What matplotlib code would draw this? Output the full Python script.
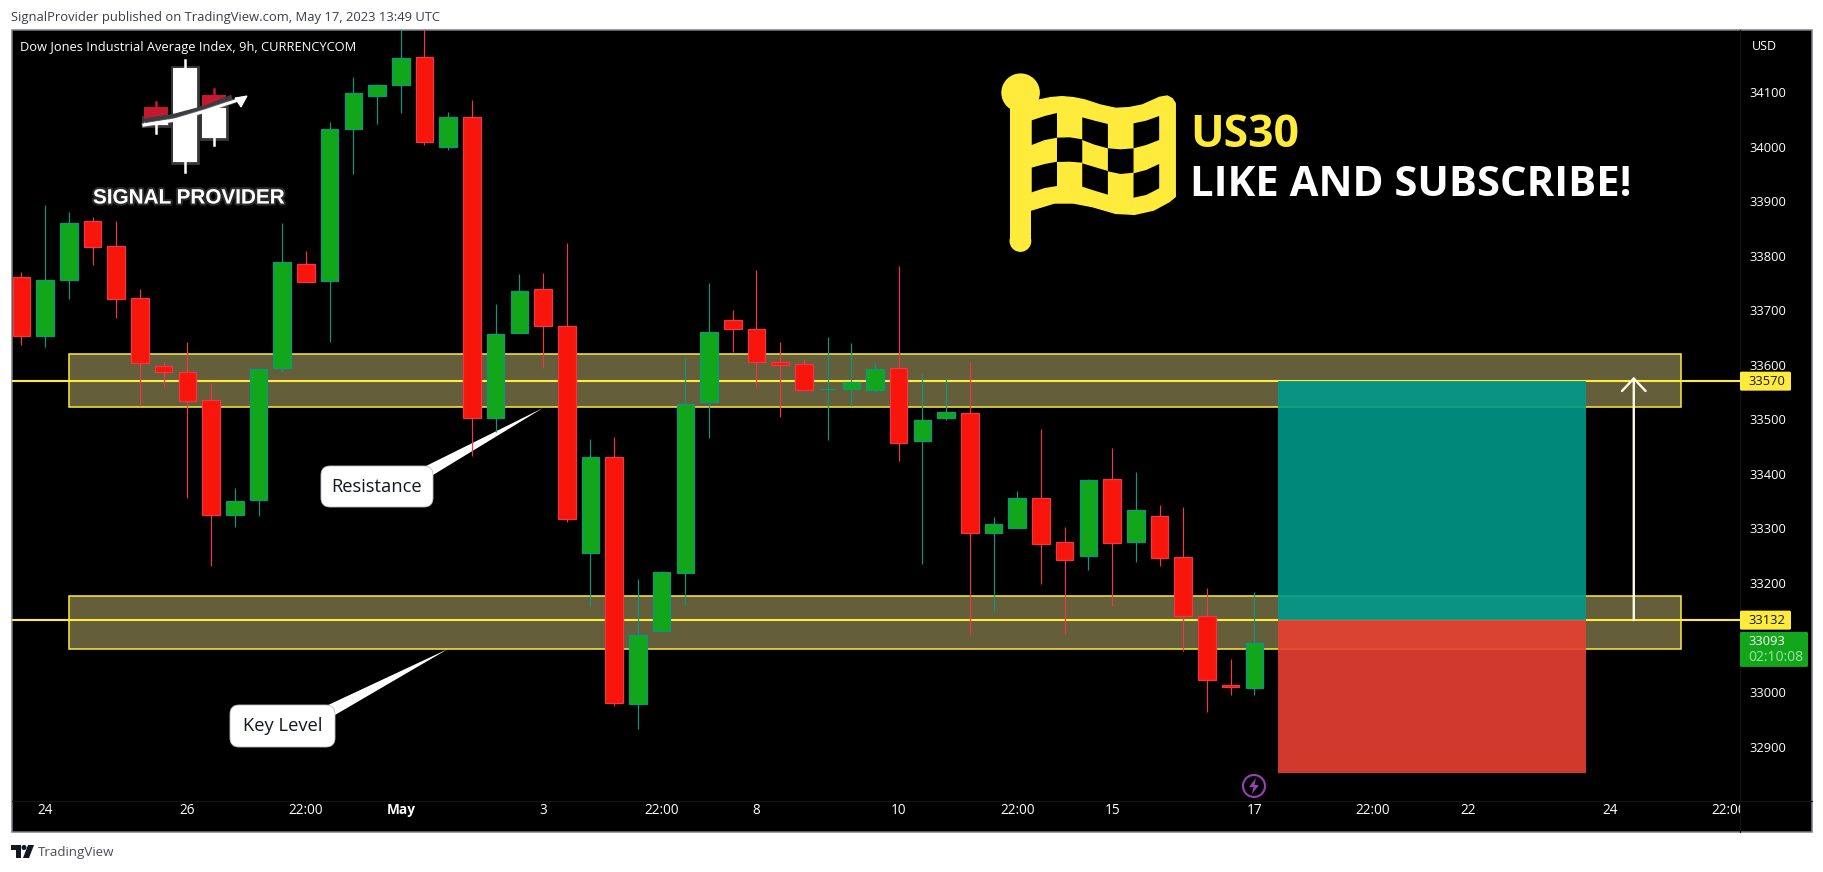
import matplotlib
matplotlib.use('Agg')
import matplotlib.pyplot as plt
import matplotlib.patheffects as pe
from matplotlib.patches import Rectangle, Polygon, Circle, FancyBboxPatch

W, H = 1823, 872

# candle values (price, one bar every 9h)
opens = [33760, 33653, 33755, 33863, 33817, 33722, 33597, 33586, 33535, 33324, 33352,
         33594, 33784, 33753, 34033, 34092, 34112, 34164, 34000, 34054, 33502, 33658,
         33738, 33672, 33255, 33431, 32979, 33112, 33218, 33531, 33682, 33665, 33606,
         33601, 33555, 33555, 33553, 33594, 33460, 33503, 33511, 33292, 33301, 33355,
         33275, 33249, 33390, 33276, 33322, 33247, 33139, 33014, 33007]
closes = [33653, 33755, 33859, 33815, 33720, 33603, 33586, 33533, 33324, 33350, 33592,
          33788, 33751, 34032, 34098, 34112, 34162, 34009, 34055, 33503, 33656, 33735,
          33672, 33318, 33431, 32981, 33104, 33220, 33529, 33660, 33666, 33606, 33599,
          33553, 33555, 33568, 33592, 33456, 33498, 33513, 33291, 33308, 33355, 33271,
          33242, 33388, 33274, 33333, 33246, 33139, 33022, 33009, 33091]
highs = [33770, 33893, 33880, 33870, 33864, 33739, 33606, 33642, 33567, 33374, 33594,
         33860, 33809, 34045, 34127, 34114, 34250, 34250, 34063, 34085, 33711, 33766,
         33768, 33823, 33464, 33468, 33207, 33222, 33612, 33750, 33700, 33774, 33642,
         33611, 33651, 33640, 33603, 33781, 33583, 33576, 33605, 33321, 33369, 33482,
         33303, 33391, 33448, 33404, 33343, 33339, 33191, 33061, 33184]
lows = [33636, 33633, 33721, 33783, 33686, 33525, 33560, 33356, 33232, 33303, 33323,
        33586, 33751, 33641, 33950, 34042, 34062, 34003, 33994, 33432, 33476, 33658,
        33595, 33311, 33157, 32975, 32933, 33112, 33160, 33465, 33624, 33560, 33505,
        33553, 33463, 33525, 33551, 33424, 33234, 33499, 33105, 33146, 33301, 33199,
        33107, 33223, 33157, 33239, 33232, 33076, 32964, 32995, 32995]

# axis ticks (33100 is hidden behind the price tags on the original)
price_ticks = [32900, 33000, 33200, 33300, 33400, 33500, 33600, 33700, 33800, 33900,
               34000, 34100]
time_ticks = [1, 7, 12, 16, 22, 27, 31, 37, 42, 46, 52, 57, 61, 67, 72]
time_labels = ['24', '26', '22:00', 'May', '3', '22:00', '8', '10', '22:00', '15',
               '17', '22:00', '22', '24', '22:00']

# drawn levels
resistance_zone = (33522, 33620)
key_zone = (33080, 33177)
zone_bars = (2, 70)
entry, target, stop = 33132, 33570, 32852
position_bars = (53, 66)
arrow_bar, arrow_tip = 68, 33578
last_price = 33093

YELLOW = '#ffeb3b'
GREEN, GREEN_EDGE = '#12a71a', '#089981'
RED, RED_EDGE = '#f7150c', '#f23645'
FONT = 'Open Sans'
plt.rcParams['font.family'] = FONT


def px_axes(fig, left, top, right, bottom, **kw):
    return fig.add_axes([left / W, 1 - bottom / H, (right - left) / W, (bottom - top) / H], **kw)


fig = plt.figure(figsize=(W / 100, H / 100), dpi=100, facecolor='white')

# canvas in pixel coordinates: frame, logos, callouts, tags
cv = px_axes(fig, 0, 0, W, H, zorder=0)
cv.set_xlim(0, W)
cv.set_ylim(H, 0)
cv.axis('off')

cv.add_patch(Rectangle((12, 30), 1800, 802, fc='black', ec='#7d7f86', lw=1.1, zorder=0))
cv.plot([12, 1812], [801, 801], color='#141414', lw=0.8, zorder=0.5)
cv.plot([1740, 1740], [30, 832], color='#141414', lw=0.8, zorder=0.5)

cv.text(11, 17, 'SignalProvider published on TradingView.com, May 17, 2023 13:49 UTC',
        fontsize=9.35, color='#3a3d45', va='center')
cv.text(20, 47, 'Dow Jones Industrial Average Index, 9h, CURRENCYCOM',
        fontsize=9.3, color='white', va='center')
cv.text(1764, 46, 'USD', fontsize=9, color='white', va='center', ha='center')

# footer logo
cv.add_patch(Polygon([(11, 845), (21, 845), (21, 858), (16, 858), (16, 850), (11, 850)],
                     fc='#131722', ec='none'))
cv.add_patch(Circle((24, 847.5), 2.5, fc='#131722', ec='none'))
cv.add_patch(Polygon([(28, 845), (34, 845), (29, 858), (23, 858)], fc='#131722', ec='none'))
cv.text(38, 852, 'TradingView', fontsize=9.6, color='#4a4d55', va='center')

# signal provider logo, top left
glow = [pe.withStroke(linewidth=3.5, foreground='#ffffff', alpha=0.22)]
for x0, x1, y0, y1 in [(173, 197, 68, 162), (202, 226, 108, 138), (144, 168, 118, 125)]:
    cv.add_patch(Rectangle((x0, y0), x1 - x0, y1 - y0, fc='white', ec='none', path_effects=glow))
cv.plot([185, 185], [60, 172], color='white', lw=1.8)
cv.plot([214, 214], [138, 145], color='white', lw=1.8)
cv.plot([155.5, 155.5], [122, 133], color='white', lw=1.8)
cv.plot([214, 214], [89, 96], color='#c4182c', lw=1.8)
cv.plot([155.5, 155.5], [102, 108], color='#c4182c', lw=1.8)
cv.add_patch(Polygon([(202, 95), (226, 95), (226, 104), (202, 111)], fc='#c4182c', ec='none'))
cv.add_patch(Polygon([(144, 107), (168, 107), (168, 115), (144, 119)], fc='#c4182c', ec='none'))
cv.plot([144, 175, 205, 232], [121, 116, 108, 97], color='#3b3c40', lw=3.6, solid_capstyle='butt')
cv.plot([144, 175, 205, 238], [125, 120, 111, 100], color='white', lw=2.2, path_effects=glow)
cv.add_patch(Polygon([(235, 98), (247, 96), (241, 107)], fc='white', ec='white', lw=0.8))
cv.text(188.5, 198, 'SIGNAL PROVIDER', fontsize=14.9, fontweight='bold', family='Liberation Sans',
        color='white', ha='center', va='center',
        path_effects=[pe.withStroke(linewidth=3, foreground='#8a8a8a', alpha=0.3)])


# checkered flag; points
def fz(pts):
    return [(840 + x / 2.613, 40 + y / 3) for x, y in pts]


cv.add_patch(Rectangle((1009.5, 100), 21.8, 143, fc=YELLOW, ec='none'))
cv.add_patch(Circle((1020.4, 241), 10.9, fc=YELLOW, ec='none'))
cv.add_patch(Circle((1020.6, 92.7), 19.3, fc=YELLOW, ec='none'))
cloth = [(490, 190), (520, 180), (550, 173), (580, 170), (610, 173), (640, 180), (680, 195),
         (720, 205), (755, 203), (790, 195), (835, 172), (855, 168), (868, 176), (876, 190),
         (876, 470), (860, 485), (820, 510), (770, 523), (720, 520), (660, 500), (610, 489),
         (560, 489), (500, 510), (490, 510)]
cv.add_patch(Polygon(fz(cloth), fc=YELLOW, ec=YELLOW, lw=1, joinstyle='round'))
checks = [
    [(501, 241), (535, 228), (567, 219), (567, 293), (535, 300), (501, 315)],
    [(633, 232), (665, 242), (700, 252), (700, 325), (665, 314), (633, 300)],
    [(767, 250), (800, 242), (834, 228), (834, 300), (800, 315), (767, 325)],
    [(567, 293), (600, 292), (633, 298), (633, 368), (600, 365), (567, 366)],
    [(700, 325), (733, 328), (767, 325), (767, 398), (733, 402), (700, 394)],
    [(501, 383), (535, 372), (567, 365), (567, 438), (535, 444), (501, 457)],
    [(633, 370), (665, 381), (700, 393), (700, 464), (665, 452), (633, 440)],
    [(767, 400), (800, 390), (834, 372), (834, 445), (800, 465), (767, 473)],
]
for cell in checks:
    cv.add_patch(Polygon(fz(cell), fc='black', ec='none'))
cv.text(1190, 130, 'US30', fontsize=32, fontweight='bold', color=YELLOW, va='center_baseline')
cv.text(1190, 180, 'LIKE AND SUBSCRIBE!', fontsize=30.2, fontweight='bold', color='white',
        va='center_baseline')


# white callouts under the candles
def callout(x0, y0, x1, y1, tail, text):
    cv.add_patch(Polygon(tail, fc='white', ec='none', zorder=1.5))
    cv.add_patch(FancyBboxPatch((x0, y0), x1 - x0, y1 - y0, boxstyle='round,pad=0,rounding_size=9',
                                fc='white', ec='#bfbfbf', lw=0.6, zorder=1.6))
    cv.text((x0 + x1) / 2, (y0 + y1) / 2, text, fontsize=13.2, color='#131722',
            ha='center', va='center', zorder=1.7)


callout(321, 466, 433, 507, [(424, 467), (543, 408), (433, 475)], 'Resistance')
callout(230, 705, 335, 747, [(326, 706), (448, 649), (335, 715)], 'Key Level')

# lightning marker
cv.add_patch(Circle((1254, 786), 11, fc='black', ec='#9c3fb5', lw=1.5, zorder=1.5))
cv.add_patch(Polygon([(1256, 778), (1249, 787), (1253.5, 787), (1252, 794), (1259, 785), (1254.5, 785)],
                     fc='#9c3fb5', ec='none', zorder=1.6))

# main price pane
ax = px_axes(fig, 12, 30, 1740, 801, zorder=1)
ax.patch.set_visible(False)
for side in ax.spines.values():
    side.set_visible(False)
ax.set_xlim(-0.396, 72.48)
ax.set_ylim(32800.5, 34213.6)

for low, high in (resistance_zone, key_zone):
    ax.add_patch(Rectangle((zone_bars[0], low), zone_bars[1] - zone_bars[0], high - low,
                           fc=(1.0, 0.94, 0.59, 0.396), ec=YELLOW, lw=1.1, zorder=1))
ax.axhline(target, color=YELLOW, lw=1.5, zorder=2)
ax.axhline(entry, color=YELLOW, lw=1.5, zorder=2)

bars = list(range(len(opens)))
wick_colors = [GREEN_EDGE if c >= o else RED_EDGE for o, c in zip(opens, closes)]
ax.vlines(bars, lows, highs, colors=wick_colors, lw=0.85, zorder=3)
for i, o, c in zip(bars, opens, closes):
    up = c >= o
    ax.bar(i, abs(c - o), bottom=min(o, c), width=0.74, color=GREEN if up else RED,
           edgecolor=GREEN_EDGE if up else RED_EDGE, linewidth=0.9, zorder=4)

# long position box, above the zones
span = position_bars[1] - position_bars[0]
ax.add_patch(Rectangle((position_bars[0], entry), span, target - entry, fc='#009989',
                       alpha=0.9, ec='none', zorder=5))
ax.add_patch(Rectangle((position_bars[0], stop), span, entry - stop, fc='#e84032',
                       alpha=0.9, ec='none', zorder=5))
ax.annotate('', xy=(arrow_bar, arrow_tip), xytext=(arrow_bar, entry), zorder=6,
            arrowprops=dict(arrowstyle='->,head_length=9,head_width=8.5', mutation_scale=1,
                            color='#fffbe6', lw=1.7, shrinkA=0, shrinkB=0))

ax.yaxis.tick_right()
ax.set_yticks(price_ticks)
ax.set_xticks([])
ax.tick_params(axis='y', length=0, pad=6.5, labelsize=9.3, labelcolor='white')

# price tags on the axis
for level, color in ((target, 'black'), (entry, 'black')):
    y = ax.transData.transform((0, level))[1]
    y = H - y
    cv.add_patch(FancyBboxPatch((1740, y - 9.5), 51, 19, boxstyle='round,pad=0,rounding_size=1.5',
                                fc=YELLOW, ec='none', zorder=2))
    cv.text(1767, y + 0.5, str(level), fontsize=9.3, color='#131722', ha='center', va='center', zorder=3)
y_last = H - ax.transData.transform((0, last_price))[1]
cv.add_patch(FancyBboxPatch((1740, y_last - 9.5), 68, 35, boxstyle='round,pad=0,rounding_size=1.5',
                            fc=GREEN, ec='none', zorder=2))
cv.text(1767, y_last + 0.5, str(last_price), fontsize=9.3, color='white', ha='center', va='center', zorder=3)
cv.text(1776, y_last + 16, '02:10:08', fontsize=10, color='#a4e2a6', ha='center', va='center', zorder=3)

# time axis strip, text clipped at the price scale
tx = px_axes(fig, 12, 801, 1740, 832, zorder=1)
tx.patch.set_visible(False)
for side in tx.spines.values():
    side.set_visible(False)
tx.set_xlim(ax.get_xlim())
tx.set_yticks([])
tx.set_xticks(time_ticks)
tx.set_xticklabels(time_labels)
tx.tick_params(axis='x', length=0, direction='in', pad=-21, labelsize=9.8, labelcolor='white')
for lab in tx.get_xticklabels():
    lab.set_clip_box(tx.bbox)
    lab.set_clip_on(True)
    if lab.get_text() == 'May':
        lab.set_fontweight('bold')

fig.savefig('out.png', dpi=100, facecolor='white')
